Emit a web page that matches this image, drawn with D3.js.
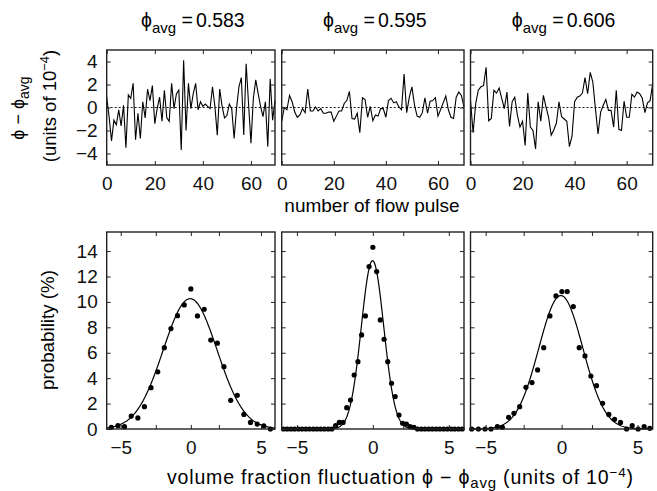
<!DOCTYPE html>
<html>
<head>
<meta charset="utf-8">
<script src="https://cdn.jsdelivr.net/npm/d3@7"></script>
<style>
  body { margin: 0; background: #fff; }
  svg { display: block; font-family: "Liberation Sans", Arial, sans-serif; }
  .tick line { stroke: #222; stroke-width: 1; }
</style>
</head>
<body>
<svg id="chart" width="657" height="491"></svg>
<script>
"use strict";

const PHI_AVG = ["0.583", "0.595", "0.606"];

// phi - phi_avg per flow pulse (units of 1e-4)
const fluct583 = [0.9, -0.8, -2.9, -1.1, -1.5, -0.2, -1.6, 0.2, -3.5, 1.1, 0.8, 2.1, -2.8, -0.5, -2.7, 0.5, -0.9, 1.6, 0.6, 1.9,
  -1.4, -0.1, 0.9, -1.2, 1.5, -0.9, -1.2, 2.1, -0.1, 1.2, 1.5, -3.7, 4.1, -2.0, 2.1, -0.1, 1.2, 2.1, -0.2, 0.5,
  0.1, 0.3, 0.1, -0.1, 1.8, 0.1, -2.4, 1.6, 0.1, -0.9, -0.7, 0.3, -0.1, -2.7, -0.1, 1.8, 2.6, -2.4, 3.8, 0.3,
  -3.1, 0.8, 2.4, 1.2, 0.1, -0.8, 0.5, -3.4, 2.5, -1.1, 0.6];
const fluct595 = [-1.2, 0.0, -0.2, 1.05, 0.5, -0.4, -0.85, -0.65, -0.1, -0.45, 1.6, -0.3, -0.3, 0.05, -0.3, -0.1, -0.5, -0.5, -0.4, -0.4,
  -1.2, -0.75, -0.3, -0.3, 0.35, 0.6, 1.4, -0.95, -1.0, -0.5, -2.2, 0.85, 0.7, -0.85, 0.1, -1.15, -0.65, -0.75, -0.1, -0.1,
  -0.85, 0.6, 0.8, 0.4, 0.5, 0.05, -0.2, 2.9, -0.45, 0.9, 1.8, 0.2, -0.75, -0.85, -0.45, 0.85, -0.5, 0.55, 0.6, 0.85,
  -0.75, -0.2, 0.4, 1.0, -0.2, -0.85, -0.95, 0.9, 1.35, 1.05, 0.05];
const fluct606 = [0.6, -2.2, 0.35, 1.5, 1.8, 1.9, 3.5, -1.15, -0.95, 1.5, 1.25, 1.7, 0.8, -0.1, 1.35, -1.65, 0.5, 0.9, -0.65, -1.7,
  -1.2, -3.3, 1.25, -1.7, -2.0, -3.6, 0.5, -1.2, 1.05, 0.05, -0.85, -2.4, -1.95, -1.35, 0.5, -0.8, -1.0, -1.2, -3.4, -2.5,
  0.5, 0.9, 1.0, 1.25, 2.6, 1.2, 3.05, 2.2, -0.1, -2.3, -0.4, 0.2, 0.7, -0.25, -0.25, -1.7, 1.5, -1.9, -2.0, 0.55,
  -0.85, -0.85, 1.15, 0.9, 1.35, 1.2, 0.8, -0.45, 0.4, 0.6, 2.1];

// histograms: bin centre (units of 1e-4) and probability (%)
const binX583 = [-5.67, -5.20, -4.73, -4.25, -3.78, -3.31, -2.84, -2.36, -1.89, -1.42, -0.95, -0.47, 0,
  0.47, 0.95, 1.42, 1.89, 2.36, 2.84, 3.31, 3.78, 4.25, 4.73, 5.20, 5.67];
const prob583 = [0.13, 0.26, 0.18, 1.02, 0.87, 1.76, 3.25, 4.5, 6.4, 7.9, 8.92, 9.76, 11.02,
  8.9, 9.42, 7.0, 6.75, 4.9, 2.26, 2.65, 1.15, 0.52, 0.39, 0.24, 0.0];
const binX595 = [-5.88, -5.64, -5.39, -5.15, -4.90, -4.66, -4.41, -4.17, -3.92, -3.68, -3.43, -3.19, -2.94, -2.70,
  -2.45, -2.21, -1.96, -1.72, -1.47, -1.23, -0.98, -0.74, -0.49, -0.25, 0,
  0.25, 0.49, 0.74, 0.98, 1.23, 1.47, 1.72, 1.96, 2.21, 2.45, 2.70,
  2.94, 3.19, 3.43, 3.68, 3.92, 4.17, 4.41, 4.66, 4.90, 5.15, 5.39, 5.64, 5.88];
const prob595 = [0, 0, 0, 0, 0, 0, 0, 0, 0, 0, 0, 0, 0, 0,
  0.26, 0.52, 0.52, 1.68, 2.28, 4.25, 5.3, 7.4, 8.9, 12.78, 14.3,
  12.39, 8.58, 7.06, 5.3, 3.6, 2.55, 1.1, 0.45, 0.39, 0.18, 0.13,
  0, 0, 0, 0, 0, 0, 0, 0, 0, 0, 0, 0, 0];
const binX606 = [-5.92, -5.48, -5.04, -4.65, -4.23, -3.90, -3.49, -3.14, -2.76, -2.35, -1.95, -1.58, -1.18, -0.77, -0.37,
  0.02, 0.37, 0.77, 1.16, 1.54, 1.93, 2.30, 2.70, 3.11, 3.49, 3.88, 4.28, 4.65, 5.04, 5.44, 5.81];
const prob606 = [0, 0, 0, 0, 0.18, 0.13, 0.92, 1.23, 1.76, 3.28, 3.65, 4.65, 6.4, 8.9, 10.47,
  10.81, 10.81, 9.63, 6.4, 5.75, 4.17, 3.41, 2.02, 1.15, 0.76, 0.52, 0, 0.26, 0, 0.18, 0.05];

// gaussian fit parameters
const fitPeak = [10.25, 13.25, 10.5];
const fitMean = [-0.05, -0.02, -0.05];
const fitSigma = [1.92, 0.74, 1.45];

const pulseTicks = [0, 20, 40, 60];
const fluctTicks = [-4, -2, 0, 2, 4];
const probTicks = [0, 2, 4, 6, 8, 10, 12, 14];
const devTicks = [-5, -2.5, 0, 2, 5];
const devLabels = [-5, 0, 5];

const fluctSeries = [fluct583, fluct595, fluct606];
const histX = [binX583, binX595, binX606];
const histY = [prob583, prob595, prob606];

const PANEL_X = [[106.7, 275], [281.7, 464], [470.5, 652.7]];
const TOP_ROW = { Y0: 50, Y1: 165 };
const BOT_ROW = { Y0: 232, Y1: 429 };
const TICK = 4;
const TICK_FONT = "19px";
const PHI = "\u03D5";

const svg = d3.select("#chart");

function frame(g, w, h) {
  g.append("rect").attr("width", w).attr("height", h)
    .attr("fill", "none").attr("stroke", "#222").attr("stroke-width", 1.4);
}

function addAxes(g, x, y, w, h, xTicks, xFmt, yTicks, yFmt) {
  g.append("g").attr("transform", `translate(0,${h})`)
    .call(d3.axisBottom(x).tickValues(xTicks).tickSize(-TICK).tickPadding(12).tickFormat(xFmt))
    .call(a => a.select(".domain").remove());
  g.append("g")
    .call(d3.axisTop(x).tickValues(xTicks).tickSize(-TICK).tickFormat(""))
    .call(a => a.select(".domain").remove());
  g.append("g")
    .call(d3.axisLeft(y).tickValues(yTicks).tickSize(-TICK).tickPadding(9).tickFormat(yFmt))
    .call(a => a.select(".domain").remove());
  g.append("g").attr("transform", `translate(${w},0)`)
    .call(d3.axisRight(y).tickValues(yTicks).tickSize(-TICK).tickFormat(""))
    .call(a => a.select(".domain").remove());
  g.selectAll(".tick text").attr("fill", "#111").style("font-size", TICK_FONT)
    .attr("font-family", "Liberation Sans, Arial, sans-serif");
}

PHI_AVG.forEach((phi, p) => {
  const [left, right] = PANEL_X[p];
  const w = right - left;

  // ---- time series row
  const hTop = TOP_ROW.Y1 - TOP_ROW.Y0;
  const gt = svg.append("g").attr("transform", `translate(${left},${TOP_ROW.Y0})`);
  const xt = d3.scaleLinear().domain([0, 70]).range([0, w]);
  const yt = d3.scaleLinear().domain([-5, 5]).range([hTop, 0]);

  gt.append("line").attr("x1", 0).attr("x2", w).attr("y1", yt(0)).attr("y2", yt(0))
    .attr("stroke", "#000").attr("stroke-width", 0.9).attr("stroke-dasharray", "2,2");
  gt.append("path").datum(fluctSeries[p])
    .attr("fill", "none").attr("stroke", "#000").attr("stroke-width", 1.1)
    .attr("d", d3.line().x((d, i) => xt(i)).y(d => yt(d)));
  addAxes(gt, xt, yt, w, hTop, pulseTicks, d3.format("d"), fluctTicks, p === 0 ? d3.format("d") : () => "");
  frame(gt, w, hTop);

  // title
  const title = svg.append("text").attr("x", (left + right) / 2 + 2).attr("y", 27)
    .attr("text-anchor", "middle").style("font-size", "19.5px");
  title.append("tspan").text(PHI);
  title.append("tspan").attr("dy", 6).style("font-size", "15px").text("avg");
  title.append("tspan").attr("dy", -6).text(" =");
  title.append("tspan").attr("dx", 3).text(phi);

  // ---- histogram row
  const hBot = BOT_ROW.Y1 - BOT_ROW.Y0;
  const gb = svg.append("g").attr("transform", `translate(${left},${BOT_ROW.Y0})`);
  const xb = d3.scaleLinear().domain([-6, 6]).range([0, w]);
  const yb = d3.scaleLinear().domain([0, 15.5]).range([hBot, 0]);

  const fitXs = d3.range(-6, 6.001, 0.05);
  const gauss = v => fitPeak[p] * Math.exp(-((v - fitMean[p]) ** 2) / (2 * fitSigma[p] ** 2));
  gb.append("path").datum(fitXs)
    .attr("fill", "none").attr("stroke", "#000").attr("stroke-width", 1.2)
    .attr("d", d3.line().x(d => xb(d)).y(d => yb(gauss(d))));
  gb.selectAll("circle").data(histX[p]).join("circle")
    .attr("cx", d => xb(d)).attr("cy", (d, i) => yb(histY[p][i]))
    .attr("r", 2.6).attr("fill", "#000");
  addAxes(gb, xb, yb, w, hBot, devTicks, d => devLabels.includes(d) ? d3.format("d")(d) : "",
    probTicks, p === 0 ? d3.format("d") : () => "");
  frame(gb, w, hBot);
});

// axis titles
const yTop = svg.append("text").attr("transform", "translate(24,108) rotate(-90)")
  .attr("text-anchor", "middle").style("font-size", "18px");
yTop.append("tspan").text(PHI + " − " + PHI);
yTop.append("tspan").attr("dy", 5).style("font-size", "14px").text("avg");

const yTop2 = svg.append("text").attr("transform", "translate(56,106) rotate(-90)")
  .attr("text-anchor", "middle").style("font-size", "18.5px");
yTop2.append("tspan").text("(units of 10");
yTop2.append("tspan").attr("dy", -7).style("font-size", "13px").text("−4");
yTop2.append("tspan").attr("dy", 7).text(")");

svg.append("text").attr("x", 372).attr("y", 212).attr("text-anchor", "middle")
  .style("font-size", "19px").text("number of flow pulse");

svg.append("text").attr("transform", "translate(54,330) rotate(-90)")
  .attr("text-anchor", "middle").style("font-size", "18.8px").text("probability (%)");

const xBot = svg.append("text").attr("x", 167).attr("y", 484)
  .attr("textLength", 466).attr("lengthAdjust", "spacing")
  .style("font-size", "19.5px");
xBot.append("tspan").text("volume fraction fluctuation " + PHI + " − " + PHI);
xBot.append("tspan").attr("dy", 4).style("font-size", "15px").text("avg");
xBot.append("tspan").attr("dy", -4).text(" (units of 10");
xBot.append("tspan").attr("dy", -7).style("font-size", "13.5px").text("−4");
xBot.append("tspan").attr("dy", 7).text(")");
</script>
</body>
</html>
